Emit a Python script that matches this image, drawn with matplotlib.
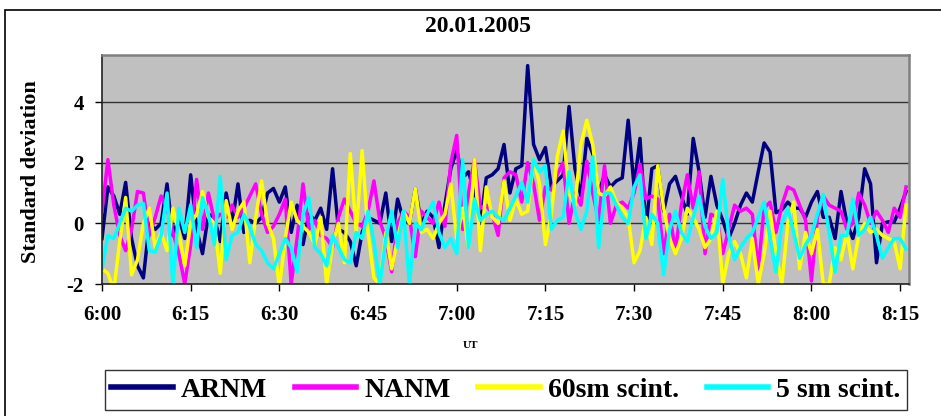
import matplotlib
matplotlib.use("Agg")
import matplotlib.pyplot as plt
from matplotlib.patches import Rectangle

# minutes after 6:00 UT, one value per minute
minutes = list(range(137))

arnm = [-0.5, 1.2, 0.9, 0.3, 1.35, -0.5, -1.4, -1.8, 0.0, -0.2,
        0.0, 1.3, -0.4, 0.2, -0.5, 1.6, -0.2, -1.0, 0.3, 0.2,
        -0.6, 1.0, 0.0, 1.3, -0.3, 0.1, 0.0, 0.2, 1.0, 1.15,
        0.7, 1.2, -0.3, 0.6, -0.7, 0.3, 0.1, 0.5, -0.2, 1.8,
        -0.2, -0.3, -0.6, -1.4, -0.3, 0.2, 0.1, 0.0, 1.0, -0.6,
        0.8, 0.1, 0.0, 1.15, 0.0, 0.4, 0.2, -0.8, 0.6,
        1.8, 2.4, 1.5, 1.7, 1.0, 0.0, 1.5, 1.6, 1.8, 2.6,
        1.0, 1.8, 1.9, 5.2, 2.6, 2.1, 2.5, 1.2, 1.4, 1.6,
        3.85, 1.8, 0.9, 2.8, 2.3, 1.0, 1.6, 1.2, 1.4, 1.5,
        3.4, 1.2, 2.8, -0.2, 1.8, 1.9, 0.4, 1.3, 1.55, 0.9,
        0.3, 2.8, 1.7, 0.2, 1.55, 0.6, 0.1, -0.5, 0.0, 0.6,
        1.0, 0.7, 1.7, 2.65, 2.35, 0.35, 0.45, 0.7, 0.5, 0.5,
        0.2, 0.7, 1.05, 0.2, 0.2, -0.5, 1.05, 0.0, -0.5, 0.2,
        1.8, 1.3, -1.3, 0.0, 0.05, 0.05, 0.5, 1.05]

nanm = [0.4, 2.1, 0.6, -0.4, -0.9, -0.2, 1.05, 1.0, -0.4, 0.2,
        0.9, 0.5, -0.3, -1.0, -2.0, -0.7, 1.45, -0.2, 1.0, 0.1,
        0.3, 0.2, 0.6, 0.2, 0.5, 0.9, 1.3, 0.3, -0.3, -0.1,
        0.3, 0.8, -2.0, -0.5, 1.3, -0.2, 0.1, -0.4, -0.5, -0.8,
        0.2, 0.8, 0.4, 0.0, -0.1, 0.4, 1.4,
        0.07, -0.5, -1.6, 0.0, 0.4, 0.2, -1.1, 0.4, 0.2, 0.0,
        0.7, -0.1, 2.0, 2.9, -0.2, 1.0, 2.1, 0.5, 0.6, 0.3,
        -0.4, 1.5, 1.7, 1.6, 0.7, 2.0, 1.3, 0.1, 1.2, 1.1,
        1.6, 2.0, 0.0, 1.0, 0.6, 2.05, 1.0, 0.1, 1.9, 0.0,
        0.6, 0.7, 0.5, 1.0, 1.95, 0.8, 0.9, 0.8, -1.0, 0.3,
        -0.9, 0.6, 1.6, 0.5, 1.7, -1.0, 0.3, 0.2, -1.0, -0.2,
        0.6, 0.4, 0.5, 0.3, -1.5, 0.5, 0.7, -0.3, 0.6, 1.2,
        1.1, 0.6, 0.1, -1.9, 0.2, 0.9, 0.6, 0.5, 0.4, -0.2,
        0.0, 1.0, 0.6, 0.0, 0.4, 0.1, -0.3, 0.5, 0.2, 1.2]

scint60 = [-1.5, -1.65, -2.2, -0.6, 0.85, -1.7, -1.2, 0.0, 0.5, -0.8,
           -0.3, -0.9, 0.5, -0.3, -1.4, 0.0, 0.3, 1.05, 0.2, 0.0,
           -1.65, 0.75, -0.2, 0.4, 0.7, -1.3, 0.2, 1.4, 0.0, -0.5,
           -2.1, -0.5, 0.7, 0.1, -0.1, -0.3, -0.7, 0.2, -2.0, -0.7,
           0.0, -1.3, 2.3, -0.3, 2.4, -0.3, -1.8, -2.0, -0.3, -1.5,
           -0.5, 0.4, 0.0, 1.15, -0.3, -0.2, -0.5, 0.0, 0.3,
           1.3, -0.5, 0.5, -0.8, 2.1, -0.9, 1.2, 0.2, 0.0, 1.4,
           0.1, 0.8, 0.3, 0.4, 2.1, 1.3, -0.7, 0.3, 2.2, 3.05,
           1.0, 0.6, 2.6, 3.4, 2.6, 1.0, 0.9, 1.2, 0.7, 0.5,
           0.2, -1.3, -0.9, 0.2, -0.7, 1.9, 0.5, -0.5, -1.0, -0.5,
           0.5, 0.2, -0.2, -0.8, -0.5, 0.4, -2.0, -1.0, -0.6, -1.0,
           -1.8, -0.5, -2.0, -1.0, 0.4, -1.0, -2.0, 0.0, 0.7, -1.5,
           -0.3, -1.0, -0.2, -2.0, -2.0, -0.8, -1.2, -0.3, -1.5, -0.4,
           0.0, -0.3, -0.2, -0.4, -0.5, -0.6, -1.5, 0.6]

scint5 = [-1.5, -0.4, -0.5, 0.0, 0.5, 0.4, 0.6, 0.65, -0.9, -0.95,
          -0.4, 1.0, -2.05, 0.5, -0.3, 0.6, -0.8, 0.85, 0.3, -0.7,
          1.55, -1.2, -0.4, -0.3, 0.3, -0.1, -0.7, -0.9, -1.3, -1.5,
          -1.0, -0.5, -0.8, -1.6, 0.3, 0.85, -0.8, -1.0, -1.4, -0.4,
          -0.8, -1.2, -1.3, -0.3, -0.5, 0.4, -0.6, -2.05, -0.5, 0.4,
          -0.8, 0.4, -2.0, 0.0, -0.2, 0.3, 0.7, -0.3, -0.8,
          -0.5, -1.0, 2.1, -0.8, 0.8, 0.1, 0.3, 0.4, 0.2, 0.1,
          0.5, 0.9, 1.35, 0.7, 2.1, 1.7, 1.9, -0.2, 0.1, 0.2,
          1.7, 0.4, -0.2, 0.4, 2.2, -0.8, 1.0, 1.0, 0.6, 0.2,
          0.0, 1.2, 1.6, -0.5, 0.3, 0.0, -1.7, -0.2, 0.4, -0.3,
          -0.6, 0.2, 0.9, -0.1, -0.5, -0.3, 1.45, -0.4, -1.2, -0.8,
          -0.5, -0.3, 0.2, 0.7, -0.5, -1.6, 0.0, 0.5, -0.3, -1.15,
          -0.7, -0.4, 0.3, 0.95, -0.3, -1.6, -0.4, -0.4, 0.8, -0.4,
          -0.2, 0.2, -0.4, -1.15, -0.8, -0.5, -0.5, -0.85]

series_names = ["ARNM", "NANM", "60sm scint.", "5 sm scint."]
series_colors = ["#000080", "#FF00FF", "#FFFF00", "#00FFFF"]

tick_pos = [0, 15, 30, 45, 60, 75, 90, 105, 120, 135]
tick_labels = ["6:00", "6:15", "6:30", "6:45", "7:00", "7:15", "7:30", "7:45", "8:00", "8:15"]

plt.rcParams['font.family'] = ['Liberation Serif', 'DejaVu Serif']
plt.rcParams['font.weight'] = 'bold'
plt.rcParams['axes.unicode_minus'] = False

fig = plt.figure(figsize=(9.41, 4.16), dpi=100)
W, H = 941, 416

# outer chart frame (runs off the right and bottom edges)
fig.patches.append(Rectangle((5 / W, -0.1), 1.2, 1.1 - 10 / H,
                             transform=fig.transFigure, fill=False,
                             edgecolor="black", linewidth=1.2))

ax = fig.add_axes([102 / W, 1 - 284 / H, (909 - 102) / W, (284 - 55) / H])
ax.set_facecolor("#C0C0C0")

for vals, name, col in zip([arnm, nanm, scint60, scint5], series_names, series_colors):
    ax.plot(minutes, vals, color=col, linewidth=2.5, label=name)

ax.set_xlim(0, 136.5)
ax.set_ylim(-2, 5.55)
ax.set_yticks([-2, 0, 2, 4])
ax.set_xticks(tick_pos)
ax.set_xticklabels(tick_labels)
ax.yaxis.grid(True, color="#333333", linewidth=1.0)
ax.set_axisbelow(True)

ax.tick_params(axis="both", direction="out", length=5, width=1, colors="black",
               labelsize=15)
ax.tick_params(axis="x", pad=10)
ax.tick_params(axis="y", pad=8)

for s in ["left", "bottom"]:
    ax.spines[s].set_color("#222222")
    ax.spines[s].set_linewidth(1.2)
for s in ["top", "right"]:
    ax.spines[s].set_color("#808080")
    ax.spines[s].set_linewidth(1.8)

ax.set_ylabel("Standard deviation", fontsize=16, fontweight="bold")
ax.yaxis.set_label_coords(-0.076, 0.49)
fig.text(478 / W, 1 - 27 / H, "20.01.2005", ha="center", va="center",
         fontsize=17, fontweight="bold")
fig.text(470 / W, 1 - 345 / H, "UT", ha="center", va="center",
         fontsize=8, fontweight="bold")

leg = fig.legend(loc="center", bbox_to_anchor=(506 / W, 1 - 390 / H), ncol=4,
                 prop={"size": 20, "weight": "bold"}, frameon=True,
                 fancybox=False, handlelength=2.2, columnspacing=1.0,
                 handletextpad=0.3, borderpad=0.25)
leg.get_frame().set_edgecolor("black")
leg.get_frame().set_linewidth(1.0)
for ln in leg.get_lines():
    ln.set_linewidth(4)

fig.savefig("out.png", dpi=100)
